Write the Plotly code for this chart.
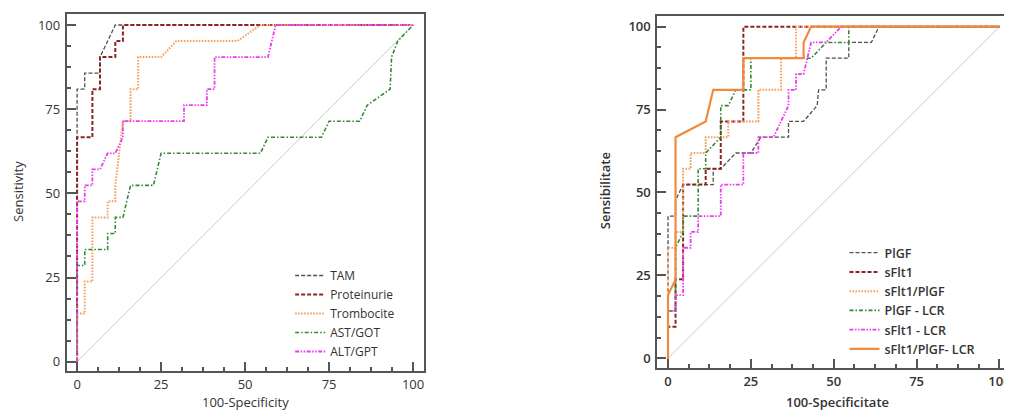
import plotly.graph_objects as go

# ---------------- Left panel data (100-Specificity, Sensitivity) ----------------
tam_x = [0, 0, 2.27, 2.27, 6.82, 6.82, 11.36, 100]
tam_y = [0, 80.95, 80.95, 85.71, 85.71, 90.48, 100, 100]

prot_x = [0, 0, 4.55, 4.55, 6.82, 6.82, 11.36, 11.36, 13.64, 13.64, 100]
prot_y = [0, 66.67, 66.67, 80.95, 80.95, 90.48, 90.48, 95.24, 95.24, 100, 100]

tromb_x = [0, 0, 2.27, 2.27, 4.55, 4.55, 9.09, 9.09, 11.36, 11.36, 13.64, 15.91, 15.91,
           18.18, 18.18, 25.0, 29.55, 47.73, 54.55, 100]
tromb_y = [0, 14.29, 14.29, 23.81, 23.81, 42.86, 42.86, 47.62, 47.62, 52.38, 71.43, 71.43, 80.95,
           80.95, 90.48, 90.48, 95.24, 95.24, 100, 100]

ast_x = [0, 0, 2.27, 2.27, 9.09, 9.09, 11.36, 11.36, 13.64, 15.91, 22.73, 25.0, 54.55, 56.82,
         72.73, 75.0, 84.09, 86.36, 93.18, 93.6, 95.45, 100]
ast_y = [0, 28.57, 28.57, 33.33, 33.33, 38.10, 38.10, 42.86, 42.86, 52.38, 52.38, 61.90, 61.90, 66.67,
         66.67, 71.43, 71.43, 76.19, 80.95, 90.48, 95.24, 100]

alt_x = [0, 0, 2.27, 2.27, 4.55, 4.55, 6.82, 9.09, 11.36, 13.64, 13.64, 31.82, 31.82, 38.64, 38.64,
         40.91, 40.91, 56.82, 59.09, 100]
alt_y = [0, 47.62, 47.62, 52.38, 52.38, 57.14, 57.14, 61.90, 61.90, 66.67, 71.43, 71.43, 76.19, 76.19,
         80.95, 80.95, 90.48, 90.48, 100, 100]

# ---------------- Right panel data (100-Specificitate, Sensibilitate) ----------------
plgf_x = [0, 0, 2.27, 2.27, 4.55, 13.64, 13.64, 15.91, 20.45, 25.0, 28.0, 36.36, 36.36, 40.91,
          45.0, 45.45, 47.73, 47.73, 54.55, 54.55, 61.36, 63.64, 100]
plgf_y = [0, 42.86, 42.86, 47.62, 52.38, 52.38, 57.14, 57.14, 61.90, 61.90, 66.67, 66.67, 71.43, 71.43,
          76.19, 80.95, 80.95, 90.48, 90.48, 95.24, 95.24, 100, 100]

sflt_x = [0, 0, 2.27, 2.27, 4.55, 4.55, 11.36, 11.36, 15.91, 15.91, 22.73, 22.73, 100]
sflt_y = [0, 9.52, 9.52, 23.81, 23.81, 52.38, 52.38, 57.14, 57.14, 71.43, 71.43, 100, 100]

ratio_x = [0, 0, 2.27, 2.27, 4.55, 4.55, 6.82, 6.82, 11.36, 11.36, 18.18, 18.18, 27.27, 27.27,
           34.09, 34.09, 38.64, 38.64, 100]
ratio_y = [0, 33.33, 33.33, 38.10, 38.10, 57.14, 57.14, 61.90, 61.90, 66.67, 66.67, 71.43, 71.43, 80.95,
           80.95, 90.48, 90.48, 100, 100]

plgf_lcr_x = [0, 0, 2.27, 2.27, 4.55, 4.55, 9.09, 9.09, 11.36, 11.36, 15.91, 15.91, 18.18, 20.45,
              25.0, 25.0, 43.18, 47.73, 54.55, 54.55, 100]
plgf_lcr_y = [0, 14.29, 14.29, 33.33, 38.10, 42.86, 42.86, 57.14, 57.14, 61.90, 66.67, 76.19, 76.19, 80.95,
              80.95, 90.48, 90.48, 95.24, 95.24, 100, 100]

sflt_lcr_x = [0, 0, 2.27, 2.27, 4.55, 4.55, 6.82, 6.82, 9.09, 9.09, 15.91, 15.91, 22.73, 22.73,
              27.27, 27.27, 31.82, 34.09, 36.36, 36.36, 38.64, 38.64, 40.91, 43.18, 47.73, 52.27, 100]
sflt_lcr_y = [0, 14.29, 14.29, 19.05, 19.05, 33.33, 33.33, 38.10, 38.10, 42.86, 42.86, 52.38, 52.38, 61.90,
              61.90, 66.67, 66.67, 71.43, 76.19, 80.95, 80.95, 85.71, 85.71, 95.24, 95.24, 100, 100]

ratio_lcr_x = [0, 0, 2.27, 2.27, 11.36, 13.64, 22.73, 22.73, 40.91, 40.91, 43.18, 100]
ratio_lcr_y = [0, 19.05, 23.81, 66.67, 71.43, 80.95, 80.95, 90.48, 90.48, 95.24, 100, 100]

diag = [0, 100]
tick_vals = [0, 25, 50, 75, 100]
tick_text = ["0", "25", "50", "75", "100"]

FONT = "Open Sans"
AXC = "#555555"
TXT = "#333333"

# The page body has an 8px margin; figure is sized to fit the window.
OFF = 8
W, H = 1012 - OFF, 412 - OFF


def px(p):
    return (p - OFF) / W


def py(p):
    return 1 - (p - OFF) / H


fig = go.Figure()


def add(x, y, name, color, dash, width, xa, ya, legend):
    fig.add_trace(go.Scatter(x=x, y=y, mode="lines", name=name,
                             line=dict(color=color, dash=dash, width=width),
                             xaxis=xa, yaxis=ya, legend=legend))


# diagonals
fig.add_trace(go.Scatter(x=diag, y=diag, mode="lines", line=dict(color="#BDBDBD", width=0.8),
                         showlegend=False, xaxis="x", yaxis="y", hoverinfo="skip"))
fig.add_trace(go.Scatter(x=diag, y=diag, mode="lines", line=dict(color="#BDBDBD", width=0.8),
                         showlegend=False, xaxis="x2", yaxis="y2", hoverinfo="skip"))

DASH = "4px,2px"
DOT = "1.6px,1.4px"
DASHDOT = "4px,2px,1.5px,2px"
DASHDOTDOT = "4px,1.5px,1.5px,1.5px,1.5px,1.5px"

add(tam_x, tam_y, "TAM", "#505050", DASH, 1.3, "x", "y", "legend")
add(prot_x, prot_y, "Proteinurie", "#8B2525", DASH, 2, "x", "y", "legend")
add(tromb_x, tromb_y, "Trombocite", "#F4A060", DOT, 2, "x", "y", "legend")
add(ast_x, ast_y, "AST/GOT", "#2E8B2E", DASHDOT, 1.6, "x", "y", "legend")
add(alt_x, alt_y, "ALT/GPT", "#EE3BEE", DASHDOTDOT, 1.8, "x", "y", "legend")

add(plgf_x, plgf_y, "PlGF", "#505050", DASH, 1.3, "x2", "y2", "legend2")
add(sflt_x, sflt_y, "sFlt1", "#8B2525", DASH, 2, "x2", "y2", "legend2")
add(ratio_x, ratio_y, "sFlt1/PlGF", "#F4A060", DOT, 2, "x2", "y2", "legend2")
add(plgf_lcr_x, plgf_lcr_y, "PlGF - LCR", "#2E8B2E", DASHDOT, 1.6, "x2", "y2", "legend2")
add(sflt_lcr_x, sflt_lcr_y, "sFlt1 - LCR", "#EE3BEE", DASHDOTDOT, 1.8, "x2", "y2", "legend2")
add(ratio_lcr_x, ratio_lcr_y, "sFlt1/PlGF- LCR", "#F08A3C", "solid", 2.2, "x2", "y2", "legend2")


def axis(domain, rng, anchor, weight, standoff):
    return dict(domain=domain, range=rng, anchor=anchor, showgrid=False, zeroline=False,
                showline=True, linecolor=AXC, linewidth=2, mirror=True,
                ticks="inside", ticklen=9, tickwidth=1.5, tickcolor=AXC,
                tickvals=tick_vals, ticktext=tick_text,
                minor=dict(dtick=6.25, tick0=0, ticks="inside", ticklen=4, tickwidth=1.5, tickcolor=AXC),
                tickfont=dict(family=FONT, size=13, color=TXT, weight=weight),
                ticklabelstandoff=standoff, ticklabeloverflow="allow")


fig.update_layout(
    width=W, height=H, margin=dict(l=0, r=0, t=0, b=0),
    paper_bgcolor="white", plot_bgcolor="white",
    xaxis=axis([px(67), px(425)], [-3.06, 103.18], "y", "normal", 0),
    yaxis=axis([py(371), py(14)], [-2.76, 103.27], "x", "normal", 2),
    xaxis2=axis([px(659.3), px(1010.7)], [-3.22, 102.5], "y2", 600, 0),
    yaxis2=axis([py(368.3), py(15.7)], [-3.01, 103.3], "x2", 600, 2),
    legend=dict(x=px(291), y=py(261), xanchor="left", yanchor="top", bgcolor="rgba(0,0,0,0)",
                font=dict(family=FONT, size=12, color=TXT)),
    legend2=dict(x=px(847), y=py(238), xanchor="left", yanchor="top", bgcolor="rgba(0,0,0,0)",
                 font=dict(family=FONT, size=12.5, color=TXT, weight=600)),
    annotations=[
        dict(text="Sensitivity", x=px(18), y=py(191), xref="paper", yref="paper", textangle=-90,
             xanchor="center", yanchor="middle",
             showarrow=False, font=dict(family=FONT, size=13, color=TXT)),
        dict(text="100-Specificity", x=px(246.7), y=py(402), xref="paper", yref="paper",
             xanchor="center", yanchor="middle",
             showarrow=False, font=dict(family=FONT, size=13, color=TXT)),
        dict(text="Sensibilitate", x=px(607), y=py(191), xref="paper", yref="paper", textangle=-90,
             xanchor="center", yanchor="middle",
             showarrow=False, font=dict(family=FONT, size=13, color=TXT, weight=600)),
        dict(text="100-Specificitate", x=px(840), y=py(402), xref="paper", yref="paper",
             xanchor="center", yanchor="middle",
             showarrow=False, font=dict(family=FONT, size=13, color=TXT, weight=600)),
    ],
)

fig.write_html("out.html")
